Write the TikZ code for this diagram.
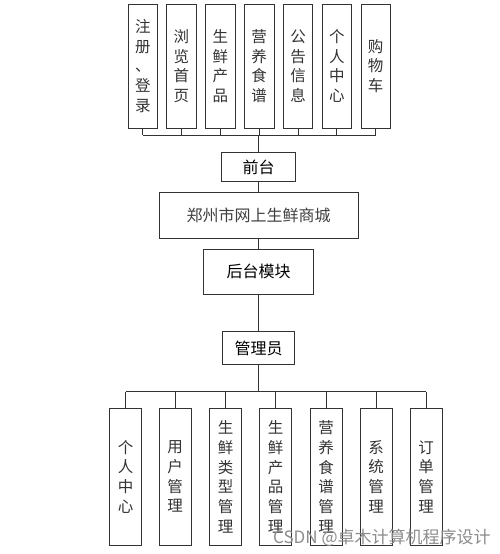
\documentclass[tikz,border=0pt]{standalone}
\usepackage{fontspec}
\newfontfamily\cjk{Noto Sans CJK SC}
\begin{document}
\begin{tikzpicture}[x=1pt,y=-1pt,
  box/.style={draw=black!80, line width=0.8pt, inner sep=0pt, align=center},
  vtext/.style={box, font=\cjk\fontsize{15.5}{19.7}\selectfont, text=black!80},
  topbox/.style={vtext, minimum width=29.5pt, minimum height=124pt},
  botbox/.style={vtext, minimum width=32pt, minimum height=137pt},
  hbox/.style={box, font=\cjk\fontsize{16}{19}\selectfont},
  link/.style={draw=black!80, line width=0.8pt}]
\useasboundingbox (0,0) rectangle (500,554);
\fill[white] (0,0) rectangle (500,554);
% top row
\node[topbox] (t1) at (142.8,66) {注\\册\\、\\登\\录};
\node[topbox] (t2) at (181.4,66) {浏\\览\\首\\页};
\node[topbox] (t3) at (220.3,66) {生\\鲜\\产\\品};
\node[topbox] (t4) at (259.2,66) {营\\养\\食\\谱};
\node[topbox] (t5) at (298.0,66) {公\\告\\信\\息};
\node[topbox] (t6) at (336.8,66) {个\\人\\中\\心};
\node[topbox] (t7) at (375.7,66) {购\\物\\车};
\coordinate (topbus) at (258.5,135);
% middle column
\node[hbox, minimum width=74pt, minimum height=29pt] (qt) at (258.5,167.2) {前台};
\node[hbox, minimum width=199pt, minimum height=46pt, text=black!75] (main) at (258.5,215.3) {郑州市网上生鲜商城};
\node[hbox, minimum width=110pt, minimum height=45pt] (ht) at (258.5,271.7) {后台模块};
\node[hbox, minimum width=72pt, minimum height=33pt] (gly) at (258.5,348.3) {管理员};
\coordinate (botbus) at (258.5,391.5);
% bottom row
\node[botbox] (b1) at (125.5,476.7) {个\\人\\中\\心};
\node[botbox] (b2) at (175.0,476.7) {用\\户\\管\\理};
\node[botbox] (b3) at (225.5,476.7) {生\\鲜\\类\\型\\管\\理};
\node[botbox] (b4) at (275.5,476.7) {生\\鲜\\产\\品\\管\\理};
\node[botbox] (b5) at (326.0,476.7) {营\\养\\食\\谱\\管\\理};
\node[botbox] (b6) at (376.0,476.7) {系\\统\\管\\理};
\node[botbox] (b7) at (426.0,476.7) {订\\单\\管\\理};
% connectors top
\foreach \n in {t1,t2,t3,t4,t5,t6,t7} \draw[link] (\n.south) -- (\n.south |- topbus);
\draw[link] (t1.south |- topbus) -- (t7.south |- topbus);
\draw[link] (topbus) -- (qt.north);
\draw[link] (qt.south) -- (main.north);
\draw[link] (main.south) -- (ht.north);
\draw[link] (ht.south) -- (gly.north);
\draw[link] (gly.south) -- (botbus);
% connectors bottom
\draw[link] (b1.north |- botbus) -- (b7.north |- botbus);
\foreach \n in {b1,b2,b3,b4,b5,b6,b7} \draw[link] (\n.north |- botbus) -- (\n.north);
% watermark
\node[font=\cjk\fontsize{17}{19}\selectfont, text=black!45, anchor=base west, inner sep=0pt] (wm) at (273,543) {CSDN @卓木计算机程序设计};
\end{tikzpicture}
\end{document}
